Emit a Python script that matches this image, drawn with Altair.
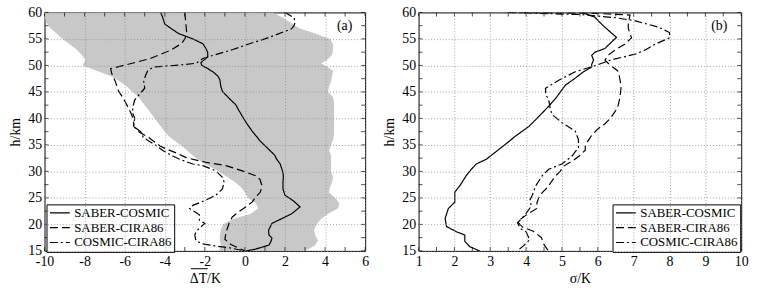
import altair as alt
import pandas as pd
import numpy as np

FONT = "Liberation Serif"
SERIES = ["SABER-COSMIC", "SABER-CIRA86", "COSMIC-CIRA86"]
DASHES = [[1, 0], [8, 4], [8, 3, 2, 3]]

# ---------------- Panel (a): mean difference ----------------
h_a_sc = [60, 59, 57.8, 57, 56, 55, 54.1, 53.2, 52.5, 51.6, 51.0, 50.5, 50.0, 49.5, 48.8, 48.0, 47.3,
          46.0, 45.1, 43.8, 42.6, 41.5, 40.4, 39, 37.6, 35.7, 34.2, 33.0, 32.5, 31.4, 30.0, 29.2, 28,
          26.7, 25.5, 24.5, 23.3, 22.0, 20.8, 20.2, 18.9, 18.0, 17.4, 16.8, 16.1, 15.3, 15.0]
dt_sc = [-4.2, -4.1, -4.0, -3.7, -3.3, -2.6, -2.1, -1.95, -1.86, -1.85, -2.05, -2.2, -2.15, -1.9, -1.6,
         -1.35, -1.25, -1.2, -1.12, -0.79, -0.46, -0.3, -0.13, 0.1, 0.36, 0.77, 1.18, 1.5, 1.55, 1.76,
         1.88, 1.92, 1.9, 1.9, 2.0, 2.4, 2.75, 2.33, 1.68, 1.35, 1.18, 1.2, 1.35, 1.3, 1.2, 0.5, 0.05]

h_a_sb = [60, 58, 56, 55, 54.1, 52.8, 51.3, 50.0, 49.4, 48.5, 46.9, 45.1, 44, 42.6, 40.7, 39.5, 38.5,
          37.5, 36.4, 34.8, 34.2, 33.6, 32.6, 31.7, 31.1, 30.1, 29.2, 28.5, 27.3, 26.1, 25, 24.2, 23.2,
          22.4, 21.4, 20.2, 19, 18.3, 17.2, 16.2, 15.5, 15]
dt_sb = [-3.0, -2.95, -2.9, -3.0, -3.17, -3.75, -4.73, -6.05, -6.7, -6.65, -6.46, -6.3, -6.1, -5.9,
         -5.65, -5.55, -5.55, -5.3, -4.8, -4.24, -3.9, -3.5, -2.93, -1.94, -0.95, -0.13, 0.53, 0.75,
         0.85, 0.77, 0.5, 0.36, 0.0, -0.3, -0.63, -0.79, -0.9, -0.95, -1.0, -0.7, -0.3, 0.0]

h_a_cc = [60, 59, 58.1, 57.5, 56.9, 55, 54, 53, 52, 51.3, 50.4, 50.0, 49.7, 49.0, 48.2, 47, 45.7, 44.4,
          43.5, 42, 41, 40, 38.5, 37.5, 36.4, 35.5, 34.8, 33.9, 32.9, 32.3, 31.4, 31.1, 30.1, 28.9,
          28.0, 26.7, 25.5, 24.5, 23.6, 23.0, 21.8, 20.8, 20.2, 18.7, 18.0, 17.0, 16.4, 16.0, 15.6, 15.0]
dt_cc = [2.0, 2.45, 2.5, 2.45, 2.33, 1.0, 0.15, -0.6, -1.5, -2.1, -2.43, -3.5, -4.57, -4.85, -4.95,
         -5.05, -5.0, -5.3, -5.5, -5.6, -5.6, -5.5, -5.56, -5.2, -5.07, -4.7, -4.4, -4.08, -3.6, -3.26,
         -2.6, -2.1, -1.45, -1.12, -1.04, -1.12, -1.45, -2.0, -2.6, -2.76, -2.27, -2.27, -2.0, -2.43,
         -2.5, -2.45, -2.2, -1.6, -0.8, 0.0]

# shaded band (SABER-COSMIC spread)
h_band = [60, 59, 58, 57, 56, 55, 54, 53, 52, 51, 50.4, 50, 49, 48, 47, 46, 45, 44, 43, 42, 41, 40, 39,
          38, 37, 36, 35, 34, 33, 32, 31, 30, 29, 28, 27, 26, 25, 24, 23, 22, 21, 20, 19, 18, 17, 16, 15]
band_left = [-10, -10, -9.9, -9.7, -9.4, -9.1, -8.75, -8.4, -8.15, -7.95, -8.05, -8.1, -7.4, -6.7,
             -6.25, -5.9, -5.6, -5.3, -5.1, -4.9, -4.7, -4.5, -4.3, -4.1, -3.9, -3.6, -3.2, -2.9, -2.6,
             -2.25, -1.8, -1.3, -0.9, -0.5, -0.2, 0.0, 0.15, 0.55, 0.65, 0.3, -0.6, -1.1, -1.2, -1.25,
             -1.25, -1.2, -1.3]
band_right = [1.4, 1.9, 2.3, 2.7, 3.5, 4.25, 4.4, 4.4, 4.35, 4.1, 3.8, 4.0, 4.4, 4.35, 4.3, 4.2, 4.15,
              4.4, 4.45, 4.45, 4.45, 4.45, 4.45, 4.45, 4.45, 4.4, 4.3, 4.2, 4.3, 4.3, 4.3, 4.3, 4.4,
              4.35, 4.25, 4.2, 4.5, 4.72, 4.64, 4.15, 3.8, 3.57, 3.45, 3.5, 3.65, 3.5, 3.0]

# ---------------- Panel (b): standard deviation ----------------
h_b_sc = [60, 59.4, 59.1, 58.5, 57.5, 56.6, 55.3, 54.4, 53.2, 52.5, 51.9, 51, 50.2, 49.7, 48.8, 47.6,
          46.3, 45.4, 44.1, 42.3, 40.4, 38.5, 36.7, 35.7, 34.2, 32.3, 31.4, 30.4, 29.2, 27.3, 26.1,
          24.2, 23.0, 21.1, 19.6, 18.6, 18.0, 16.8, 15.8, 15]
sg_sc = [5.55, 5.8, 5.92, 6.0, 6.15, 6.3, 6.52, 6.38, 6.2, 5.92, 5.83, 5.88, 5.83, 5.83, 5.6, 5.37,
         5.1, 5.0, 4.86, 4.63, 4.36, 4.08, 3.71, 3.53, 3.25, 2.89, 2.61, 2.47, 2.33, 2.15, 2.01, 2.01,
         1.83, 1.74, 1.78, 2.06, 2.29, 2.29, 2.43, 2.7]

h_b_sb = [60, 59.8, 59.5, 58, 57, 56, 55.2, 54, 53, 52, 51, 50, 49, 48, 46, 44, 42, 41, 40, 39, 38, 37,
          36, 35, 34, 33, 32, 31, 30, 29, 28, 27, 26, 25, 24, 23, 22, 21, 20.5, 19.5, 18.7, 17.5, 16.5,
          15.2, 15]
sg_sb = [3.5, 6.0, 6.9, 6.85, 6.85, 6.9, 6.94, 6.75, 6.5, 6.3, 6.2, 6.35, 6.55, 6.6, 6.65, 6.62, 6.55,
         6.45, 6.35, 6.2, 6.0, 5.85, 5.75, 5.65, 5.65, 5.5, 5.3, 5.05, 4.95, 4.8, 4.7, 4.6, 4.45, 4.35,
         4.3, 4.3, 4.05, 3.85, 3.76, 3.9, 4.2, 4.43, 4.47, 4.6, 4.7]

h_b_cc = [60, 59.6, 59.0, 58.4, 57.2, 56.2, 55.2, 54, 53, 52.2, 51, 50, 48.8, 47.2, 45.7, 44.5, 43.5,
          41.6, 40.7, 39.2, 37.6, 36, 34.5, 32.9, 31.4, 30.4, 29.2, 27.3, 25.5, 24.5, 23.5, 22, 21,
          20.3, 19.2, 18.6, 17.1, 15.8, 15]
sg_cc = [3.5, 5.5, 6.5, 7.05, 7.7, 8.0, 8.0, 7.6, 7.35, 7.08, 6.35, 5.95, 5.37, 4.91, 4.54, 4.55, 4.63,
         4.68, 4.73, 5.0, 5.37, 5.46, 5.46, 5.28, 5.0, 4.63, 4.45, 4.27, 4.17, 4.1, 4.15, 3.99, 3.86,
         3.76, 3.85, 4.0, 4.1, 3.9, 3.75]

X_TICKS_A = list(range(-10, 7, 2))
X_TICKS_B = list(range(1, 11))
Y_TICKS = list(range(15, 61, 5))


def long_df(parts):
    rows = []
    for name, hs, vs in parts:
        for i, (h, v) in enumerate(zip(hs, vs)):
            rows.append({"series": name, "h": h, "val": v, "idx": i})
    return pd.DataFrame(rows)


df_a = long_df([(SERIES[0], h_a_sc, dt_sc), (SERIES[1], h_a_sb, dt_sb), (SERIES[2], h_a_cc, dt_cc)])
df_b = long_df([(SERIES[0], h_b_sc, sg_sc), (SERIES[1], h_b_sb, sg_sb), (SERIES[2], h_b_cc, sg_cc)])
band_df = pd.DataFrame({"h": h_band, "left": band_left, "right": band_right})

W_A, W_B, H = 324, 326, 241
TICK = 4

label_expr = "datum.value < 0 ? '-' + abs(datum.value) : '' + datum.value"

AX = dict(grid=True, ticks=False, domain=False, labelFont=FONT, labelFontSize=14, labelColor="black",
          labelOverlap=False, labelFlush=False, titleFont=FONT, titleFontSize=14,
          titleFontWeight="normal", titleColor="black", gridColor="#8a8a8a", gridDash=[1, 2],
          gridWidth=0.8, zindex=1)


def x_axis(values, title):
    return alt.Axis(values=values, title=title, labelExpr=label_expr, labelPadding=4,
                    titlePadding=3, **AX)


def y_axis():
    return alt.Axis(values=Y_TICKS, title="h/km", labelPadding=3, titlePadding=5, **AX)


def tick_layers(xscale, xminor, yscale, yminor, width):
    xt = pd.DataFrame({"v": xminor})
    yt = pd.DataFrame({"v": yminor})
    layers = []
    for yy in (H - TICK / 2, TICK / 2):
        layers.append(alt.Chart(xt).mark_tick(orient="vertical", size=TICK, thickness=1, color="black")
                      .encode(x=alt.X("v:Q", scale=xscale, axis=None), y=alt.value(yy)))
    for xx in (TICK / 2, width - TICK / 2):
        layers.append(alt.Chart(yt).mark_tick(orient="horizontal", size=TICK, thickness=1, color="black")
                      .encode(y=alt.Y("v:Q", scale=yscale, axis=None), x=alt.value(xx)))
    return layers


def line_layer(df, xscale, yscale, lx, ly):
    return alt.Chart(df).mark_line(color="black", strokeWidth=1.2, clip=True).encode(
        x=alt.X("val:Q", scale=xscale, axis=None),
        y=alt.Y("h:Q", scale=yscale, axis=None),
        order="idx:Q",
        strokeDash=alt.StrokeDash(
            "series:N",
            scale=alt.Scale(domain=SERIES, range=DASHES),
            legend=alt.Legend(title=None, orient="none", legendX=lx, legendY=ly,
                              labelFont=FONT, labelFontSize=13, labelColor="black",
                              symbolType="M-1,0H3", symbolSize=100, symbolStrokeWidth=1.2,
                              symbolStrokeColor="black", symbolFillColor="transparent",
                              strokeColor="black", fillColor="white",
                              padding=2, rowPadding=1, labelOffset=13),
        ),
    )


yscale = alt.Scale(domain=[15, 60], nice=False, zero=False)
xscale_a = alt.Scale(domain=[-10, 6], nice=False, zero=False)
xscale_b = alt.Scale(domain=[1, 10], nice=False, zero=False)

band = alt.Chart(band_df).mark_area(orient="horizontal", color="#c8c8c8", opacity=1, clip=True).encode(
    y=alt.Y("h:Q", scale=yscale, axis=y_axis()),
    x=alt.X("left:Q", scale=xscale_a, axis=x_axis(X_TICKS_A, "\u0394T/K")),
    x2="right:Q",
)

# overline above "ΔT" of the x title
overline_a = alt.Chart(pd.DataFrame({"k": [0]})).mark_rule(color="black", strokeWidth=1).encode(
    x=alt.value(W_A / 2 - 14), x2=alt.value(W_A / 2 + 3), y=alt.value(H + 18)
)

lab_a = alt.Chart(pd.DataFrame({"t": ["(a)"]})).mark_text(
    align="right", baseline="middle", font=FONT, fontSize=14, color="black"
).encode(x=alt.value(W_A - 13), y=alt.value(14), text="t:N")

panel_a = alt.layer(
    band,
    line_layer(df_a, xscale_a, yscale, 2, 194),
    *tick_layers(xscale_a, list(range(-10, 7)), yscale, list(np.arange(15, 60.1, 2.5)), W_A),
    lab_a,
    overline_a,
).resolve_axis(x="independent", y="independent").properties(width=W_A, height=H)

frame_b = alt.Chart(df_b).mark_line(color="black", strokeWidth=1.2, opacity=0).encode(
    x=alt.X("val:Q", scale=xscale_b, axis=x_axis(X_TICKS_B, "\u03c3/K")),
    y=alt.Y("h:Q", scale=yscale, axis=y_axis()),
    order="idx:Q",
    detail="series:N",
)

lab_b = alt.Chart(pd.DataFrame({"t": ["(b)"]})).mark_text(
    align="right", baseline="middle", font=FONT, fontSize=14, color="black"
).encode(x=alt.value(W_B - 14), y=alt.value(14), text="t:N")

panel_b = alt.layer(
    frame_b,
    line_layer(df_b, xscale_b, yscale, 196, 194),
    *tick_layers(xscale_b, list(np.arange(1, 10.01, 0.5)), yscale, list(np.arange(15, 60.1, 2.5)), W_B),
    lab_b,
).resolve_axis(x="independent", y="independent").properties(width=W_B, height=H)

chart = alt.hconcat(panel_a, panel_b, spacing=54, bounds="flush").resolve_scale(
    strokeDash="independent"
).resolve_legend(strokeDash="independent").properties(
    padding={"left": 8, "top": 3, "right": 10, "bottom": 6}, background="white"
).configure_view(stroke="black", strokeWidth=1)

chart.save("out.html", embed_options={"renderer": "svg", "actions": False})
